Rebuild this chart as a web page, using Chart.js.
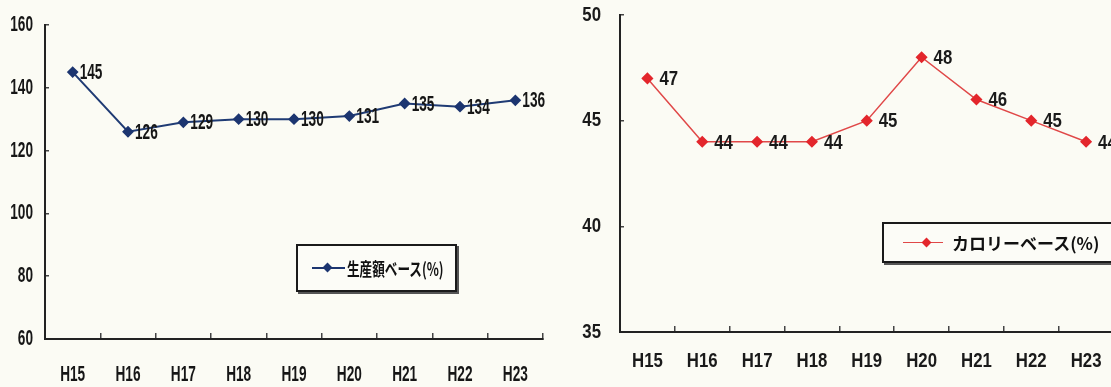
<!DOCTYPE html>
<html>
<head>
<meta charset="utf-8">
<script src="https://cdn.jsdelivr.net/npm/chart.js@4.4.1/dist/chart.umd.min.js"></script>
<style>
  html, body { margin: 0; padding: 0; background: #fbfbf4; overflow: hidden; width: 1111px; height: 387px; }
  .wrap { position: absolute; top: 0; width: 560px; height: 387px; }
  #w1 { left: 0; }
  #w2 { left: 560px; }
  .legend {
    position: absolute; box-sizing: border-box; border: 2px solid #1a1a1a;
    box-shadow: 2px 2px 0 #555; background: #fcfcf7;
    display: flex; align-items: center;
    font-family: "Noto Sans CJK JP", sans-serif; font-weight: bold; color: #111;
  }
  .swatch { position: relative; display: inline-block; height: 2px; flex: none; }
  .swatch i { position: absolute; top: -3px; width: 7px; height: 7px; transform: rotate(45deg); }
  #lg1 { left: 296px; top: 244px; width: 161px; height: 48px; }
  #lg1 .swatch { margin-left: 14px; width: 33px; background: #1c3570; }
  #lg1 .swatch i { left: 12px; background: #1c3570; }
  #lg1 span.t { font-size: 18px; margin-left: 2px; transform: scaleX(0.7); transform-origin: left center; white-space: nowrap; }
  #lg2 { left: 882px; top: 222px; width: 240px; height: 41px; }
  #lg2 .swatch { margin-left: 19px; width: 40px; height: 1.5px; background: #e04848; }
  #lg2 .swatch i { left: 20px; background: #e3262c; }
  #lg2 span.t { font-size: 17px; margin-left: 9px; white-space: nowrap; }
</style>
</head>
<body>
<div class="wrap" id="w1"><canvas id="c1" width="560" height="387"></canvas></div>
<div class="wrap" id="w2"><canvas id="c2" width="560" height="387"></canvas></div>
<div class="legend" id="lg1"><span class="swatch"><i></i></span><span class="t">生産額ベース(%)</span></div>
<div class="legend" id="lg2"><span class="swatch"><i></i></span><span class="t">カロリーベース(%)</span></div>
<script>
const years = ['H15', 'H16', 'H17', 'H18', 'H19', 'H20', 'H21', 'H22', 'H23'];
const productionBase = [145, 126, 129, 130, 130, 131, 135, 134, 136];
const calorieBase = [47, 44, 44, 44, 45, 48, 46, 45, 44];
const productionTicks = [60, 80, 100, 120, 140, 160];
const calorieTicks = [35, 40, 45, 50];

const sans = '"Liberation Sans", Arial, sans-serif';

// text squeezed horizontally, the scan uses a condensed face
function squeezed(ctx, text, x, y, k) {
  ctx.save();
  ctx.translate(x, y);
  ctx.scale(k, 1);
  ctx.fillText(text, 0, 0);
  ctx.restore();
}

// tick labels and point values, read from the chart's own scales and elements
const condensedText = {
  id: 'condensedText',
  afterDatasetsDraw(chart, args, o) {
    const { ctx } = chart;
    const xs = chart.scales.x, ys = chart.scales.y;
    ctx.save();
    ctx.font = o.font;
    ctx.fillStyle = o.color;
    ctx.textBaseline = 'middle';

    ctx.textAlign = 'right';
    ys.ticks.forEach((t, i) => {
      squeezed(ctx, String(t.value), ys.right - o.yGap, ys.getPixelForTick(i), o.k);
    });

    ctx.textAlign = 'center';
    xs.ticks.forEach((t, i) => {
      squeezed(ctx, xs.getLabelForValue(t.value), xs.getPixelForTick(i), xs.top + o.xGap, o.k);
    });

    ctx.textAlign = 'left';
    const values = chart.data.datasets[0].data;
    chart.getDatasetMeta(0).data.forEach((pt, i) => {
      squeezed(ctx, String(values[i]), pt.x + o.dx, pt.y + o.dy, o.k);
    });
    ctx.restore();
  }
};

function makeChart(canvas, cfg) {
  return new Chart(canvas.getContext('2d'), {
    type: 'line',
    data: {
      labels: years,
      datasets: [{
        data: cfg.values,
        borderColor: cfg.lineColor,
        backgroundColor: cfg.pointColor,
        pointBackgroundColor: cfg.pointColor,
        pointBorderColor: cfg.pointColor,
        borderWidth: cfg.lineWidth,
        pointStyle: 'rectRot',
        pointRadius: cfg.pointRadius,
        tension: 0,
      }],
    },
    options: {
      responsive: false,
      animation: false,
      layout: { padding: cfg.padding },
      plugins: {
        legend: { display: false },
        tooltip: { enabled: false },
        condensedText: cfg.text,
      },
      scales: {
        x: {
          offset: true,
          afterFit: s => { s.height = cfg.xHeight; },
          grid: { offset: true, drawOnChartArea: false, tickLength: -6, color: '#444', lineWidth: 1.5 },
          border: { display: true, color: '#222', width: 2 },
          ticks: { display: false, autoSkip: false },
        },
        y: {
          min: cfg.ticks[0],
          max: cfg.ticks[cfg.ticks.length - 1],
          afterFit: s => { s.width = cfg.yWidth; },
          afterBuildTicks: s => { s.ticks = cfg.ticks.map(v => ({ value: v })); },
          grid: { drawOnChartArea: false, tickLength: -4, color: '#444', lineWidth: 1.5 },
          border: { display: true, color: '#222', width: 2 },
          ticks: { display: false },
        },
      },
    },
    plugins: [condensedText],
  });
}

makeChart(document.getElementById('c1'), {
  values: productionBase,
  ticks: productionTicks,
  lineColor: '#1f3b74',
  pointColor: '#1c3570',
  lineWidth: 2,
  pointRadius: 4.5,
  padding: { top: 25, right: 17, bottom: 0, left: 0 },
  yWidth: 45, xHeight: 48,
  text: { font: 'bold 22px ' + sans, color: '#161616', k: 0.62, yGap: 12, xGap: 36, dx: 7, dy: 1 },
});

makeChart(document.getElementById('c2'), {
  values: calorieBase,
  ticks: calorieTicks,
  lineColor: '#e04848',
  pointColor: '#e3262c',
  lineWidth: 1.5,
  pointRadius: 5,
  padding: { top: 15, right: 5, bottom: 0, left: 0 },
  yWidth: 60, xHeight: 55,
  text: { font: 'bold 21px ' + sans, color: '#1a1a1a', k: 0.8, yGap: 19, xGap: 29, dx: 12, dy: 1 },
});
</script>
</body>
</html>
